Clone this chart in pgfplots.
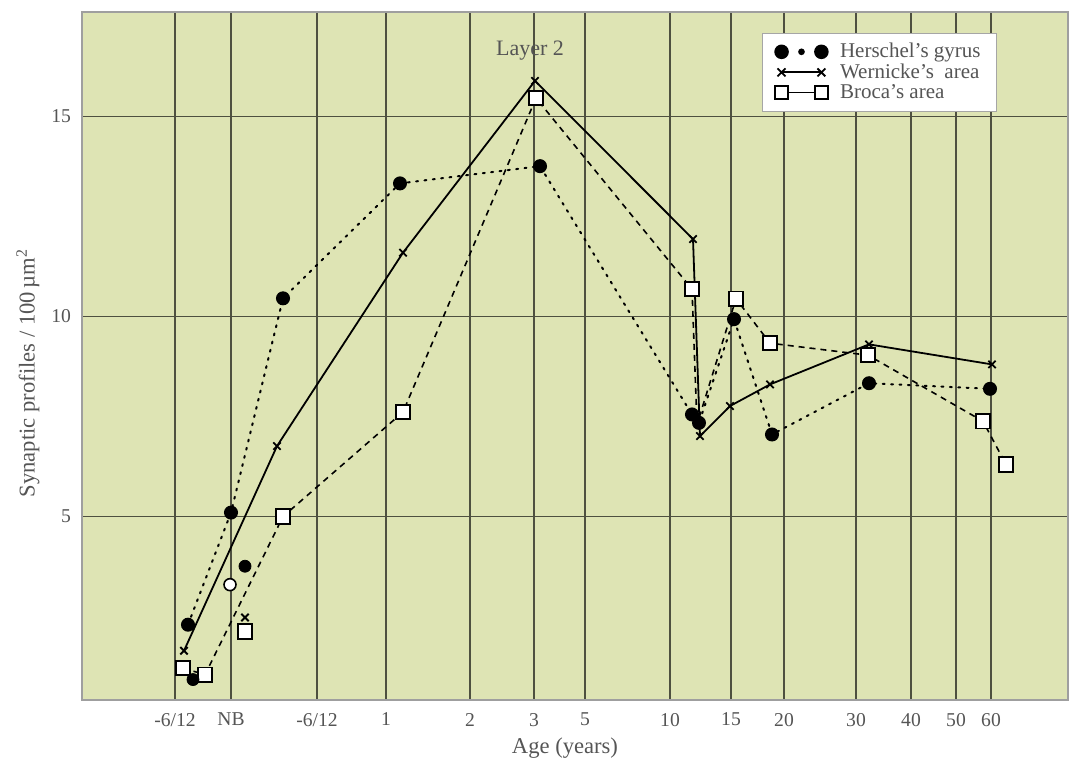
\documentclass[border=0pt]{standalone}
\usepackage{fontspec}
\setmainfont{Liberation Serif}
\usepackage{pgfplots}
\pgfplotsset{compat=1.18}
\definecolor{bg}{RGB}{222,228,180}
\definecolor{gridc}{RGB}{78,80,64}
\definecolor{txt}{RGB}{85,85,85}
\begin{document}
\begin{tikzpicture}
\begin{axis}[
  scale only axis, width=493pt, height=344pt,
  xmin=82, xmax=1068, ymin=0.42, ymax=17.6,
  axis background/.style={fill=bg},
  axis line style={draw=gray!75, line width=0.9pt},
  xtick={175,231,317,386,470,534,585,670,731,784,856,911,956,991},
  xticklabels={{-6/12},{NB},{-6/12},{1},{2},{3},{5},{10},{15},{20},{30},{40},{50},{60}},
  ytick={5,10,15},
  grid=major, major grid style={draw=gridc, line width=0.55pt},
  tick style={draw=none},
  ticklabel style={font=\fontsize{9.8}{10}\selectfont, text=txt},
  xticklabel style={yshift=-3pt},
  yticklabel style={xshift=-2pt},
  /pgf/number format/assume math mode=true,
  xlabel={Age (years)}, ylabel={Synaptic profiles / 100\,µm\textsuperscript{2}},
  label style={font=\fontsize{11.3}{12}\selectfont, text=txt},
  xlabel style={yshift=1pt, xshift=-5pt},
  ylabel style={yshift=-1pt, xshift=-8.5pt},
  reverse legend,
  legend style={at={(0.928,0.970)}, anchor=north east, draw=gray!70, fill=white,
    font=\fontsize{10.5}{11}\selectfont, text=txt, cells={anchor=west},
    row sep=-2.5pt, inner xsep=6pt, inner ysep=3pt},
]
% Broca's area
\addplot[black, line width=0.8pt, dash pattern=on 3pt off 2.5pt,
  mark=square*, mark size=3.6pt, mark options={solid, fill=white, line width=0.9pt},
  mark indices={1,2,3,4,5,6,8,9,10,11,12},
  legend image code/.code={
    \draw[solid, black, line width=0.8pt] (-0.14cm,0cm) -- (0.56cm,0cm);
    \draw[solid, black, fill=white, line width=0.9pt] (-0.25cm,-0.11cm) rectangle (-0.03cm,0.11cm);
    \draw[solid, black, fill=white, line width=0.9pt] (0.45cm,-0.11cm) rectangle (0.67cm,0.11cm);
    \path (0.8cm,0cm);}]
  coordinates {(183,1.22)(205,1.05)(283,5.0)(403,7.61)(536,15.45)(692,10.68)(697,7.3)(736,10.44)(770,9.33)(868,9.03)(983,7.38)(1006,6.3)};
% Wernicke's area
\addplot[black, line width=0.9pt, mark=x, mark size=2.6pt, mark options={solid, line width=0.9pt},
  legend image code/.code={
    \draw[solid, black, line width=0.9pt] (-0.14cm,0cm) -- (0.56cm,0cm);
    \draw[solid, black, line width=0.9pt] (-0.21cm,-0.07cm) -- (-0.07cm,0.07cm) (-0.21cm,0.07cm) -- (-0.07cm,-0.07cm);
    \draw[solid, black, line width=0.9pt] (0.49cm,-0.07cm) -- (0.63cm,0.07cm) (0.49cm,0.07cm) -- (0.63cm,-0.07cm);
    \path (-0.25cm,0cm) (0.8cm,0cm);}]
  coordinates {(184,1.65)(277,6.76)(403,11.59)(535,15.88)(693,11.93)(700,7.01)(730,7.76)(770,8.3)(869,9.3)(992,8.8)};
% Herschel's gyrus
\addplot[black, line width=1pt, dash pattern=on 1pt off 3.2pt, line cap=round,
  mark=*, mark size=3pt, mark options={solid},
  legend image code/.code={
    \fill[solid, black] (-0.14cm,0cm) circle (0.11cm);
    \fill[solid, black] (0.21cm,0cm) circle (0.04cm);
    \fill[solid, black] (0.56cm,0cm) circle (0.11cm);
    \path (-0.25cm,0cm) (0.8cm,0cm);}]
  coordinates {(188,2.3)(231,5.1)(283,10.45)(400,13.32)(540,13.75)(692,7.55)(699,7.34)(734,9.93)(772,7.05)(869,8.33)(990,8.19)};
% isolated points
\addplot[forget plot, only marks, mark=square*, mark size=3.6pt, mark options={fill=white, draw=black, line width=0.9pt}]
  coordinates {(245,2.13)};
\addplot[forget plot, only marks, mark=x, mark size=2.6pt, mark options={draw=black, line width=0.9pt}]
  coordinates {(245,2.48)};
\addplot[forget plot, only marks, mark=*, mark size=3pt, mark options={fill=black, draw=black}]
  coordinates {(193,0.93)(245,3.76)};
\addplot[forget plot, only marks, mark=*, mark size=3pt, mark options={fill=white, draw=black, line width=0.8pt}]
  coordinates {(230,3.3)};
\legend{Broca's area, Wernicke's\ \ area, Herschel's gyrus}
\node[text=txt, font=\fontsize{11}{12}\selectfont] at (axis cs:530,16.63) {Layer 2};
\end{axis}
\pgfresetboundingbox
\path[use as bounding box] ([xshift=-41pt,yshift=-29pt]current axis.south west) rectangle ([xshift=2pt,yshift=6pt]current axis.north east);
\end{tikzpicture}
\end{document}
